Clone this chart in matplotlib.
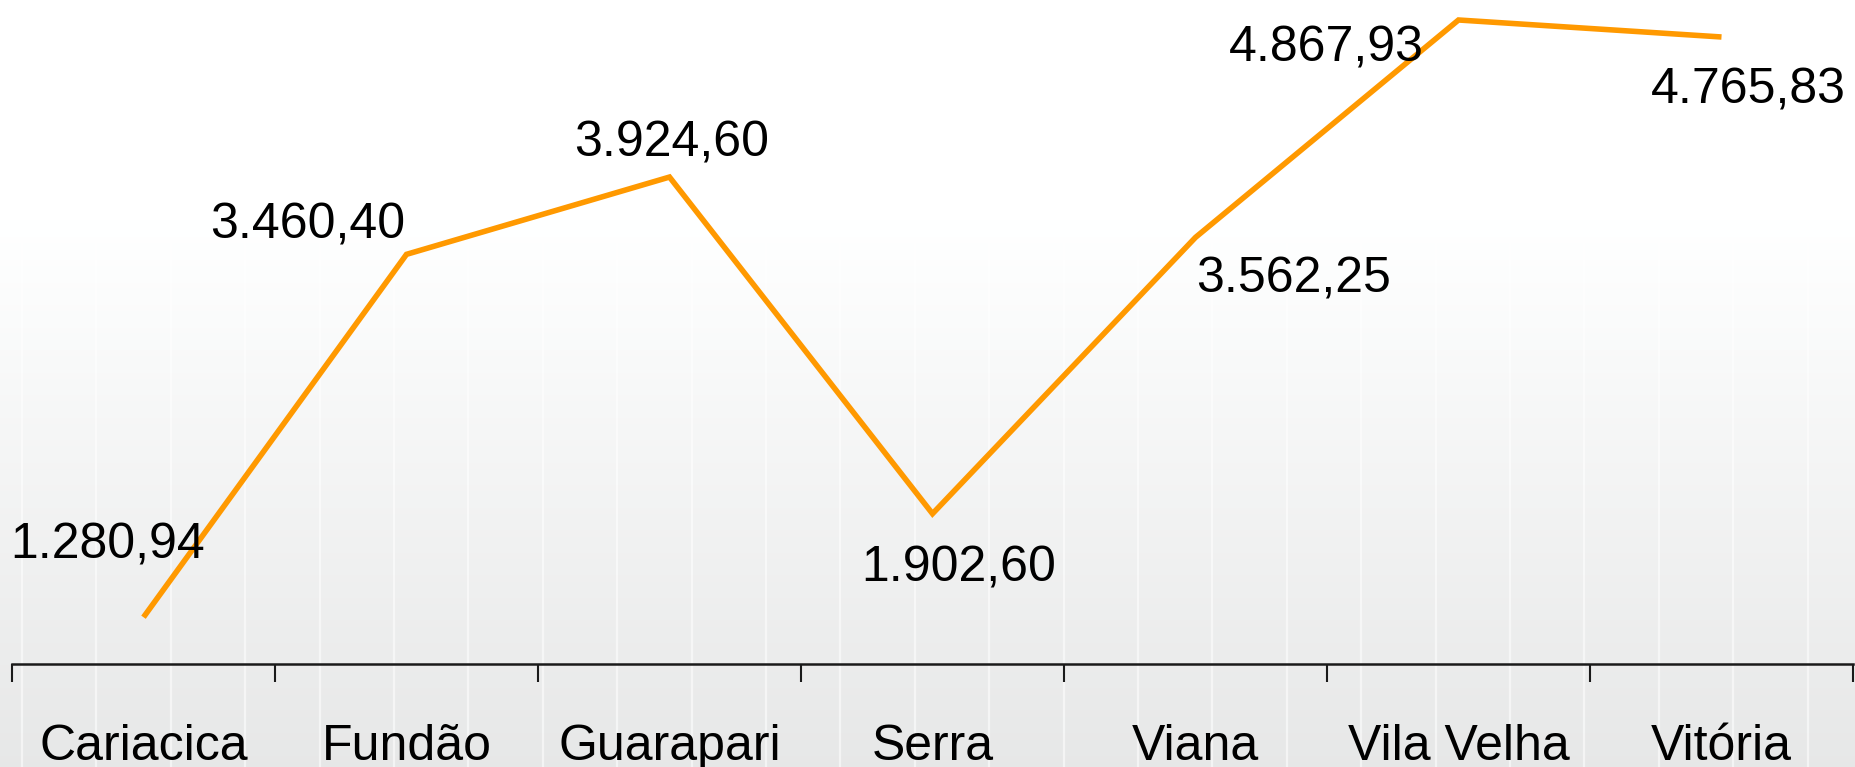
import numpy as np
import matplotlib
matplotlib.use("Agg")
import matplotlib.pyplot as plt

# data
cities = ["Cariacica", "Fundão", "Guarapari", "Serra", "Viana", "Vila Velha", "Vitória"]
values = [1280.94, 3460.40, 3924.60, 1902.60, 3562.25, 4867.93, 4765.83]

# label offsets (pixels) relative to each point
label_dx = [-36, -99, 2, 26, 98, -132, 27]
label_dy = [59, 16, 21, -68, -55, -42, -67]


def br_format(v):
    # 1234.5 -> 1.234,50
    s = f"{v:,.2f}"
    return s.replace(",", "X").replace(".", ",").replace("X", ".")


plt.rcParams["font.family"] = ["Liberation Sans", "DejaVu Sans"]

W, H = 1856, 767
fig = plt.figure(figsize=(W / 100, H / 100), dpi=100)

# background: white top fading to light grey, with faint vertical stripes
bg = fig.add_axes([0, 0, 1, 1], zorder=-1)
rows = np.arange(H)
shade = np.clip(1.0 - (rows - 220) / (H - 220) * 0.095, 0.905, 1.0)
grad = np.repeat(shade[:, None], 2, axis=1)
bg.imshow(np.dstack([grad, grad * 1.003, grad * 1.003]).clip(0, 1),
          aspect="auto", extent=[0, W, H, 0], interpolation="bilinear")
for xs in np.arange(22, W, 74.4):
    bg.axvline(xs, color="white", lw=1.6, alpha=0.55)
bg.set_xlim(0, W)
bg.set_ylim(H, 0)
bg.axis("off")

ax = fig.add_axes([12 / W, 1 - 664 / H, (1853 - 12) / W, (664 + 2) / H])
ax.patch.set_alpha(0)

x = np.arange(len(cities))
ax.plot(x, values, color="#FF9900", lw=4, solid_joinstyle="miter",
        solid_capstyle="butt", zorder=3)

for i, v in enumerate(values):
    ax.annotate(br_format(v), (x[i], v), xytext=(label_dx[i], label_dy[i]),
                textcoords="offset pixels", ha="center", va="baseline",
                fontsize=36, color="black", zorder=4, annotation_clip=False)

ax.set_xlim(-0.5, len(cities) - 0.5)
ax.set_ylim(1000, 5000)

for s in ["top", "left", "right"]:
    ax.spines[s].set_visible(False)
ax.spines["bottom"].set_color("#1a1a1a")
ax.spines["bottom"].set_linewidth(1.8)

ax.set_yticks([])
ax.set_xticks(np.arange(len(cities) + 1) - 0.5)
ax.set_xticklabels([])
ax.tick_params(axis="x", direction="out", length=13, width=1.5, color="#1a1a1a")

# category names below the axis
for i, c in enumerate(cities):
    ax.annotate(c, (x[i], 1000), xytext=(0, -(760 - 664)),
                textcoords="offset pixels", ha="center", va="baseline",
                fontsize=36, color="black", annotation_clip=False)

fig.savefig("out.png", dpi=100)
